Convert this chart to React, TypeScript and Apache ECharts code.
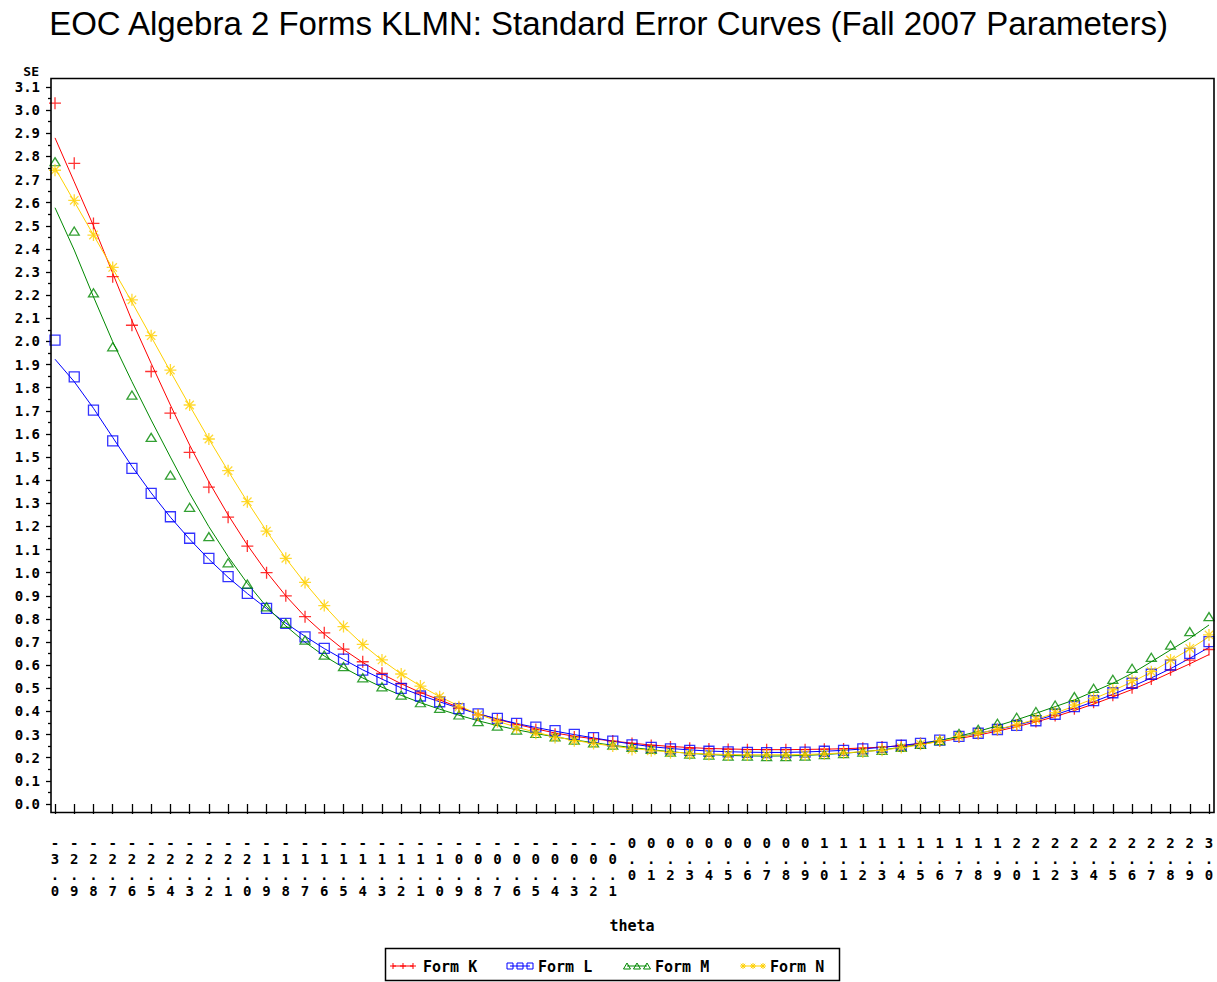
import React, { useEffect, useRef } from 'react';
import * as echarts from 'echarts';

const theta = [
  '-3.0', '-2.9', '-2.8', '-2.7', '-2.6', '-2.5', '-2.4', '-2.3', '-2.2', '-2.1',
  '-2.0', '-1.9', '-1.8', '-1.7', '-1.6', '-1.5', '-1.4', '-1.3', '-1.2', '-1.1',
  '-1.0', '-0.9', '-0.8', '-0.7', '-0.6', '-0.5', '-0.4', '-0.3', '-0.2', '-0.1',
  '0.0', '0.1', '0.2', '0.3', '0.4', '0.5', '0.6', '0.7', '0.8', '0.9',
  '1.0', '1.1', '1.2', '1.3', '1.4', '1.5', '1.6', '1.7', '1.8', '1.9',
  '2.0', '2.1', '2.2', '2.3', '2.4', '2.5', '2.6', '2.7', '2.8', '2.9', '3.0',
];

const yTicks = ['0.0', '3.1'];

// Form K (red, plus)
const formKPoints = [
  3.03, 2.77, 2.51, 2.28, 2.07, 1.87, 1.69, 1.52, 1.37, 1.24,
  1.115, 1.0, 0.9, 0.81, 0.74, 0.67, 0.615, 0.565, 0.52, 0.48,
  0.45, 0.414, 0.385, 0.363, 0.343, 0.322, 0.302, 0.29, 0.282, 0.272,
  0.262, 0.253, 0.246, 0.241, 0.238, 0.236, 0.235, 0.235, 0.235, 0.235,
  0.237, 0.238, 0.241, 0.246, 0.253, 0.262, 0.274, 0.29, 0.305, 0.322,
  0.34, 0.357, 0.383, 0.412, 0.44, 0.47, 0.503, 0.54, 0.58, 0.622, 0.668,
];
const formKCurve = [
  2.88, 2.69, 2.5, 2.295, 2.09, 1.905, 1.725, 1.552, 1.393, 1.25,
  1.12, 1.003, 0.9, 0.81, 0.735, 0.668, 0.612, 0.562, 0.52, 0.482,
  0.45, 0.418, 0.39, 0.366, 0.345, 0.325, 0.307, 0.293, 0.282, 0.272,
  0.263, 0.255, 0.249, 0.244, 0.24, 0.238, 0.236, 0.235, 0.235, 0.236,
  0.237, 0.239, 0.242, 0.246, 0.252, 0.26, 0.27, 0.283, 0.298, 0.315,
  0.334, 0.355, 0.378, 0.404, 0.432, 0.463, 0.495, 0.53, 0.568, 0.606, 0.646,
];

// Form L (blue, square)
const formLPoints = [
  2.006, 1.847, 1.703, 1.57, 1.451, 1.343, 1.242, 1.149, 1.062, 0.983,
  0.911, 0.846, 0.781, 0.723, 0.673, 0.626, 0.579, 0.539, 0.5, 0.467,
  0.442, 0.412, 0.39, 0.37, 0.349, 0.332, 0.317, 0.301, 0.287, 0.272,
  0.256, 0.245, 0.238, 0.232, 0.228, 0.225, 0.223, 0.222, 0.222, 0.224,
  0.228, 0.232, 0.238, 0.245, 0.254, 0.262, 0.276, 0.292, 0.306, 0.322,
  0.34, 0.36, 0.388, 0.421, 0.447, 0.481, 0.522, 0.561, 0.601, 0.651, 0.702,
];
const formLCurve = [
  1.923, 1.826, 1.711, 1.585, 1.46, 1.345, 1.24, 1.145, 1.058, 0.98,
  0.91, 0.845, 0.782, 0.725, 0.672, 0.625, 0.58, 0.54, 0.502, 0.47,
  0.442, 0.414, 0.39, 0.368, 0.348, 0.331, 0.315, 0.3, 0.286, 0.272,
  0.259, 0.248, 0.24, 0.234, 0.229, 0.226, 0.224, 0.223, 0.223, 0.225,
  0.228, 0.232, 0.238, 0.245, 0.253, 0.263, 0.275, 0.289, 0.305, 0.322,
  0.341, 0.362, 0.386, 0.413, 0.442, 0.474, 0.508, 0.545, 0.585, 0.63, 0.677,
];

// Form M (green, triangle)
const formMPoints = [
  2.777, 2.477, 2.21, 1.977, 1.768, 1.585, 1.422, 1.283, 1.156, 1.043,
  0.951, 0.853, 0.781, 0.709, 0.644, 0.594, 0.546, 0.507, 0.471, 0.438,
  0.414, 0.385, 0.356, 0.337, 0.32, 0.305, 0.29, 0.276, 0.264, 0.255,
  0.245, 0.236, 0.224, 0.216, 0.212, 0.207, 0.207, 0.205, 0.205, 0.207,
  0.214, 0.218, 0.225, 0.232, 0.245, 0.258, 0.274, 0.305, 0.323, 0.349,
  0.375, 0.4, 0.428, 0.464, 0.5, 0.539, 0.587, 0.634, 0.687, 0.745, 0.81,
];
const formMCurve = [
  2.578, 2.395, 2.193, 1.999, 1.826, 1.66, 1.5, 1.343, 1.199, 1.07,
  0.954, 0.853, 0.77, 0.7, 0.64, 0.59, 0.545, 0.505, 0.47, 0.438,
  0.41, 0.384, 0.36, 0.339, 0.321, 0.305, 0.29, 0.277, 0.265, 0.254,
  0.244, 0.235, 0.226, 0.219, 0.214, 0.21, 0.208, 0.207, 0.208, 0.21,
  0.214, 0.219, 0.226, 0.234, 0.245, 0.258, 0.274, 0.293, 0.314, 0.338,
  0.364, 0.392, 0.421, 0.45, 0.486, 0.522, 0.565, 0.615, 0.666, 0.716, 0.774,
];

// Form N (yellow, star)
const formNPoints = [
  2.74, 2.61, 2.46, 2.32, 2.18, 2.025, 1.876, 1.725, 1.578, 1.441,
  1.307, 1.18, 1.062, 0.958, 0.858, 0.767, 0.69, 0.623, 0.562, 0.51,
  0.464, 0.42, 0.385, 0.356, 0.327, 0.306, 0.288, 0.274, 0.262, 0.251,
  0.236, 0.23, 0.222, 0.216, 0.214, 0.212, 0.212, 0.212, 0.212, 0.213,
  0.216, 0.22, 0.225, 0.232, 0.244, 0.258, 0.274, 0.292, 0.306, 0.322,
  0.342, 0.366, 0.395, 0.428, 0.457, 0.493, 0.533, 0.572, 0.623, 0.673, 0.731,
];
const formNCurve = [
  2.75, 2.605, 2.46, 2.315, 2.17, 2.02, 1.87, 1.722, 1.578, 1.44,
  1.307, 1.18, 1.062, 0.955, 0.857, 0.768, 0.69, 0.622, 0.562, 0.51,
  0.464, 0.424, 0.389, 0.358, 0.332, 0.31, 0.291, 0.275, 0.262, 0.25,
  0.24, 0.232, 0.225, 0.22, 0.216, 0.214, 0.213, 0.213, 0.213, 0.214,
  0.217, 0.221, 0.226, 0.233, 0.243, 0.256, 0.271, 0.288, 0.305, 0.323,
  0.343, 0.366, 0.393, 0.423, 0.455, 0.49, 0.528, 0.57, 0.62, 0.67, 0.723,
];

const seriesNames = ['Form K', 'Form L', 'Form M', 'Form N'];
const colors = ['#FF0000', '#0000FF', '#008800', '#FFD000'];

const MONO = '"DejaVu Sans Mono", "Liberation Mono", monospace';

const SYMBOLS = [
  'path://M0,6H12M6,0V12',
  'path://M0,0H10V10H0Z',
  'path://M5,0L10,9L0,9Z',
  'path://M6,0V12M0,6H12M1.8,1.8L10.2,10.2M10.2,1.8L1.8,10.2',
];
const SYMBOL_SIZES: any[] = [[12, 12], [10, 10], [10, 9], [12, 12]];

function legendMarks(kind: number, color: string, x0: number, y: number) {
  const els: any[] = [];
  const st = { stroke: color, lineWidth: 1, fill: 'none' };
  els.push({ type: 'line', shape: { x1: x0, y1: y, x2: x0 + 20, y2: y }, style: st });
  [x0, x0 + 10, x0 + 20].forEach((cx) => {
    if (kind === 0) {
      els.push({ type: 'line', shape: { x1: cx - 3, y1: y, x2: cx + 3, y2: y }, style: st });
      els.push({ type: 'line', shape: { x1: cx, y1: y - 3, x2: cx, y2: y + 3 }, style: st });
    } else if (kind === 1) {
      els.push({ type: 'rect', shape: { x: cx - 3, y: y - 3, width: 6, height: 6 }, style: st });
    } else if (kind === 2) {
      els.push({ type: 'polygon', shape: { points: [[cx, y - 3], [cx + 3.5, y + 3], [cx - 3.5, y + 3]] }, style: st });
    } else {
      els.push({ type: 'line', shape: { x1: cx - 3, y1: y, x2: cx + 3, y2: y }, style: st });
      els.push({ type: 'line', shape: { x1: cx, y1: y - 3, x2: cx, y2: y + 3 }, style: st });
      els.push({ type: 'line', shape: { x1: cx - 2.2, y1: y - 2.2, x2: cx + 2.2, y2: y + 2.2 }, style: st });
      els.push({ type: 'line', shape: { x1: cx + 2.2, y1: y - 2.2, x2: cx - 2.2, y2: y + 2.2 }, style: st });
    }
  });
  return els;
}

export default function App() {
  const ref = useRef<HTMLDivElement>(null);

  useEffect(() => {
    if (!ref.current) return;
    const chart = echarts.init(ref.current, null, { renderer: 'svg' });

    const points = [formKPoints, formLPoints, formMPoints, formNPoints];
    const curves = [formKCurve, formLCurve, formMCurve, formNCurve];

    const series: any[] = [];
    seriesNames.forEach((name, i) => {
      series.push({
        name,
        type: 'line',
        data: curves[i],
        showSymbol: false,
        smooth: false,
        lineStyle: { color: colors[i], width: 1 },
        z: 2,
      });
      series.push({
        name,
        type: 'scatter',
        data: points[i],
        symbol: SYMBOLS[i],
        symbolSize: SYMBOL_SIZES[i],
        symbolKeepAspect: true,
        itemStyle: { color: 'rgba(0,0,0,0)', borderColor: colors[i], borderWidth: 1.3 },
        z: 3,
      });
    });

    const legendX = [393, 510, 627, 743];
    const legendTextX = [423, 538, 655, 770];
    const legendChildren: any[] = [
      {
        type: 'rect',
        shape: { x: 385.5, y: 948.5, width: 454, height: 32 },
        style: { stroke: '#000', lineWidth: 1.5, fill: 'none' },
      },
    ];
    seriesNames.forEach((name, i) => {
      legendChildren.push(...legendMarks(i, colors[i], legendX[i], 966));
      legendChildren.push({
        type: 'text',
        x: legendTextX[i],
        y: 967,
        style: {
          text: name,
          fill: '#000',
          font: `bold 15px ${MONO}`,
          verticalAlign: 'middle',
          align: 'left',
        },
      });
    });

    const option: any = {
      animation: false,
      backgroundColor: '#fff',
      title: {
        text: 'EOC Algebra 2 Forms KLMN: Standard Error Curves (Fall 2007 Parameters)',
        left: 'center',
        top: 2,
        textStyle: {
          fontFamily: '"Liberation Sans", Arial, sans-serif',
          fontSize: 33,
          fontWeight: 'normal',
          color: '#000',
        },
      },
      grid: { left: 55, right: 8, top: 87, bottom: 178, containLabel: false },
      xAxis: {
        type: 'category',
        data: theta,
        boundaryGap: false,
        offset: 8,
        name: 'theta',
        nameLocation: 'middle',
        nameGap: 106,
        nameTextStyle: { fontFamily: MONO, fontWeight: 'bold', fontSize: 15, color: '#000' },
        axisLine: { show: false },
        axisTick: { show: true, interval: 0, length: 10, lineStyle: { color: '#000', width: 1.3 } },
        axisLabel: {
          interval: 0,
          margin: 23,
          fontFamily: MONO,
          fontWeight: 'bold',
          fontSize: 14,
          lineHeight: 16,
          color: '#000',
          verticalAlign: 'top',
          formatter: (v: string) => v.split('').join('\n'),
        },
        splitLine: { show: false },
      },
      yAxis: {
        type: 'value',
        min: Number(yTicks[0]),
        max: Number(yTicks[1]),
        interval: 0.1,
        offset: 4,
        name: 'SE',
        nameLocation: 'end',
        nameGap: 10,
        nameTextStyle: {
          fontFamily: MONO,
          fontWeight: 'bold',
          fontSize: 13,
          lineHeight: 11,
          color: '#000',
          align: 'right',
          padding: [0, 12, 0, 0],
        },
        axisLine: { show: false },
        axisTick: { show: true, length: 5, lineStyle: { color: '#000', width: 1.3 } },
        minorTick: { show: true, splitNumber: 2, length: 3, lineStyle: { color: '#000', width: 1.3 } },
        axisLabel: {
          margin: 11,
          fontFamily: MONO,
          fontWeight: 'bold',
          fontSize: 14,
          lineHeight: 12,
          color: '#000',
          formatter: (v: number) => v.toFixed(1),
        },
        splitLine: { show: false },
        minorSplitLine: { show: false },
      },
      graphic: [
        {
          type: 'rect',
          shape: { x: 51, y: 78.5, width: 1163, height: 734 },
          style: { stroke: '#000', lineWidth: 1.6, fill: 'none' },
          z: 10,
          silent: true,
        },
        {
          type: 'group',
          children: legendChildren,
        },
      ],
      series,
    };

    chart.setOption(option);
    return () => chart.dispose();
  }, []);

  return (
    <div
      ref={ref}
      style={{ position: 'absolute', left: 0, top: 0, width: 1217, height: 982, background: '#fff' }}
    />
  );
}
